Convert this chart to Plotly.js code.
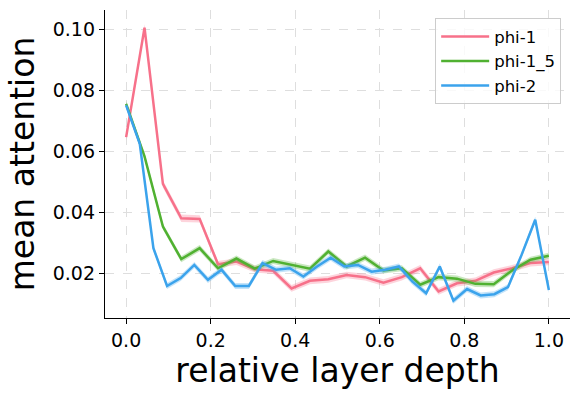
<!DOCTYPE html>
<html>
<head>
<meta charset="utf-8">
<script src="https://cdn.plot.ly/plotly-3.0.1.min.js"></script>
<style>
  html, body { margin: 0; padding: 0; background: #fff; }
  #plot { width: 579px; height: 396px; }
</style>
</head>
<body>
<div id="plot"></div>
<script>
// mean attention per layer
var phi1Mean = [0.0646, 0.1005, 0.0493, 0.0380, 0.0378, 0.0229, 0.0238, 0.0213,
  0.0208, 0.0150, 0.0175, 0.0180, 0.0194, 0.0187, 0.0169, 0.0187,
  0.0216, 0.0140, 0.0167, 0.0175, 0.0202, 0.0216, 0.0233, 0.0237];
var phi1Ci = [0.0011, 0.0011, 0.0012, 0.0012, 0.0012, 0.0011, 0.0011, 0.0011,
  0.0011, 0.0011, 0.0011, 0.0011, 0.0011, 0.0011, 0.0011, 0.0011,
  0.0011, 0.0011, 0.0011, 0.0011, 0.0011, 0.0011, 0.0011, 0.0011];

var phi15Mean = [0.0755, 0.0583, 0.0353, 0.0246, 0.0282, 0.0216, 0.0248, 0.0215,
  0.0240, 0.0227, 0.0215, 0.0271, 0.0222, 0.0251, 0.0209, 0.0216,
  0.0162, 0.0187, 0.0182, 0.0165, 0.0164, 0.0209, 0.0244, 0.0257];
var phi15Ci = [0.0010, 0.0010, 0.0010, 0.0010, 0.0010, 0.0010, 0.0010, 0.0010,
  0.0010, 0.0010, 0.0010, 0.0010, 0.0010, 0.0010, 0.0010, 0.0010,
  0.0010, 0.0010, 0.0010, 0.0010, 0.0010, 0.0010, 0.0010, 0.0010];

var phi2Mean = [0.0750, 0.0624, 0.0282, 0.0158, 0.0184, 0.0227, 0.0178, 0.0211,
  0.0158, 0.0158, 0.0233, 0.0211, 0.0216, 0.0189, 0.0222, 0.0251,
  0.0222, 0.0227, 0.0205, 0.0211, 0.0222, 0.0172, 0.0134, 0.0222,
  0.0110, 0.0148, 0.0127, 0.0131, 0.0154, 0.0260, 0.0375, 0.0145];
var phi2Ci = [0.0010, 0.0010, 0.0010, 0.0010, 0.0010, 0.0010, 0.0010, 0.0010,
  0.0010, 0.0010, 0.0010, 0.0010, 0.0010, 0.0010, 0.0010, 0.0010,
  0.0010, 0.0010, 0.0010, 0.0010, 0.0010, 0.0010, 0.0010, 0.0010,
  0.0010, 0.0010, 0.0010, 0.0010, 0.0010, 0.0010, 0.0010, 0.0010];

var seriesNames = ["phi-1", "phi-1_5", "phi-2"];
var xTicks = [0, 0.2, 0.4, 0.6, 0.8, 1.0];
var yTicks = [0.02, 0.04, 0.06, 0.08, 0.10];

var colors = ["#f7718a", "#50b131", "#3ba3ec"];
var bandColors = ["rgba(247,113,138,0.3)", "rgba(80,177,49,0.3)", "rgba(59,163,236,0.3)"];

// relative depth of each layer: layer index / (n layers - 1)
function depth(n) {
  var out = [];
  for (var i = 0; i < n; i++) out.push(i / (n - 1));
  return out;
}

function makeTraces(name, mean, ci, color, band) {
  var x = depth(mean.length);
  var upper = mean.map(function(v, i) { return v + ci[i]; });
  var lower = mean.map(function(v, i) { return v - ci[i]; });
  return [
    { x: x, y: upper, type: "scatter", mode: "lines", line: { width: 0 },
      showlegend: false, hoverinfo: "skip" },
    { x: x, y: lower, type: "scatter", mode: "lines", line: { width: 0 },
      fill: "tonexty", fillcolor: band, showlegend: false, hoverinfo: "skip" },
    { x: x, y: mean, type: "scatter", mode: "lines", name: name,
      line: { color: color, width: 2.5 } }
  ];
}

var data = []
  .concat(makeTraces(seriesNames[0], phi1Mean, phi1Ci, colors[0], bandColors[0]))
  .concat(makeTraces(seriesNames[1], phi15Mean, phi15Ci, colors[1], bandColors[1]))
  .concat(makeTraces(seriesNames[2], phi2Mean, phi2Ci, colors[2], bandColors[2]));

var axisFont = { family: "DejaVu Sans", size: 19, color: "#000" };

var layout = {
  width: 579,
  height: 396,
  margin: { l: 105, r: 9, t: 10, b: 78 },
  paper_bgcolor: "#fff",
  plot_bgcolor: "#fff",
  font: { family: "DejaVu Sans", color: "#000" },
  xaxis: {
    range: [-0.05, 1.05],
    tickvals: xTicks,
    ticktext: xTicks.map(function(v) { return v.toFixed(1); }),
    tickfont: axisFont,
    ticks: "outside", ticklen: 5, tickcolor: "#000",
    showline: true, linecolor: "#000", linewidth: 1.2,
    showgrid: true, gridcolor: "#dedede", griddash: "dash", gridwidth: 1,
    zeroline: false,
    title: { text: "relative layer depth", font: { family: "DejaVu Sans", size: 33 }, standoff: 6 }
  },
  yaxis: {
    range: [0.0053, 0.1063],
    tickvals: yTicks,
    ticktext: yTicks.map(function(v) { return v.toFixed(2); }),
    tickfont: axisFont,
    ticks: "outside", ticklen: 5, tickcolor: "#000",
    showline: true, linecolor: "#000", linewidth: 1.2,
    showgrid: true, gridcolor: "#dedede", griddash: "dash", gridwidth: 1,
    zeroline: false,
    title: { text: "mean attention", font: { family: "DejaVu Sans", size: 33 }, standoff: 8 }
  },
  legend: {
    x: 0.981, y: 0.973, xanchor: "right", yanchor: "top",
    traceorder: "normal",
    bgcolor: "rgba(255,255,255,0.8)", bordercolor: "#cccccc", borderwidth: 1,
    font: { family: "DejaVu Sans", size: 16.5, color: "#000" },
    itemwidth: 48,
    tracegroupgap: 0
  },
  showlegend: true
};

Plotly.newPlot("plot", data, layout, { displayModeBar: false, staticPlot: true });
</script>
</body>
</html>
